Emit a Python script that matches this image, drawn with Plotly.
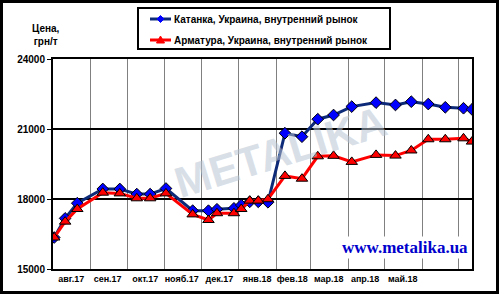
import plotly.graph_objects as go

dates = ["2017-08-02", "2017-08-11", "2017-08-21", "2017-09-11", "2017-09-25",
         "2017-10-09", "2017-10-20", "2017-11-02", "2017-11-24", "2017-12-07",
         "2017-12-14", "2017-12-28", "2018-01-03", "2018-01-10", "2018-01-17",
         "2018-01-25", "2018-02-08", "2018-02-22", "2018-03-07", "2018-03-20",
         "2018-04-04", "2018-04-24", "2018-05-10", "2018-05-23", "2018-06-06",
         "2018-06-20", "2018-07-05", "2018-07-12"]

katanka = [16350, 17170, 17820, 18430, 18430, 18210, 18210, 18450, 17500, 17500,
           17560, 17600, 17740, 17880, 17880, 17860, 20820, 20670, 21420, 21600,
           21960, 22130, 22030, 22170, 22070, 21930, 21890, 21840]

armatura = [16350, 17030, 17570, 18270, 18240, 18030, 18030, 18240, 17340, 17100,
            17390, 17390, 17570, 17930, 17930, 17990, 18990, 18870, 19830, 19850,
            19590, 19890, 19860, 20080, 20560, 20560, 20600, 20460]

series_names = ["Катанка, Украина, внутренний рынок", "Арматура, Украина, внутренний рынок"]

month_starts = ["2017-08-01", "2017-09-01", "2017-10-01", "2017-11-01", "2017-12-01",
                "2018-01-01", "2018-02-01", "2018-03-01", "2018-04-01", "2018-05-01",
                "2018-06-01", "2018-07-01"]
month_mids = ["2017-08-16", "2017-09-15", "2017-10-16", "2017-11-15", "2017-12-16",
              "2018-01-16", "2018-02-14", "2018-03-16", "2018-04-15", "2018-05-16"]
month_labels = ["авг.17", "сен.17", "окт.17", "нояб.17", "дек.17",
                "янв.18", "фев.18", "мар.18", "апр.18", "май.18"]
y_ticks = [15000, 18000, 21000, 24000]

W, H = 500, 295
ml, mr, mt, mb = 53, 28, 59, 26
pw, ph = W - ml - mr, H - mt - mb

def px_x(x):
    return (x - ml) / pw

def px_y(y):
    return (H - mb - y) / ph

line_colors = ["#0d2a78", "#ff0000"]
marker_colors = ["#0000ff", "#ff0000"]

fig = go.Figure()
fig.add_trace(go.Scatter(
    x=dates, y=katanka, name=series_names[0], mode="lines+markers",
    line=dict(color=line_colors[0], width=3),
    marker=dict(symbol="diamond", size=9, color=marker_colors[0], line=dict(color="black", width=1)),
))
fig.add_trace(go.Scatter(
    x=dates, y=armatura, name=series_names[1], mode="lines+markers",
    line=dict(color=line_colors[1], width=3),
    marker=dict(symbol="triangle-up", size=10, color=marker_colors[1], line=dict(color="black", width=1)),
))

bold = "Liberation Sans, Arial, sans-serif"

fig.update_layout(
    width=W, height=H,
    margin=dict(l=ml, r=mr, t=mt, b=mb),
    paper_bgcolor="white", plot_bgcolor="white",
    font=dict(family=bold, color="black"),
    showlegend=False,
    xaxis=dict(
        type="date", range=["2017-08-01", "2018-07-12"],
        tickvals=month_mids, ticktext=month_labels,
        tickfont=dict(size=9, weight="bold"),
        showgrid=False, ticks="", ticklen=0,
        showline=True, linecolor="black", linewidth=2, mirror=True,
        minor=dict(tickvals=month_starts, showgrid=True, gridcolor="#808080", gridwidth=1, ticks=""),
        zeroline=False,
    ),
    yaxis=dict(
        range=[15000, 24000], tickvals=y_ticks, tickformat="d",
        tickfont=dict(size=10, weight="bold"),
        showgrid=True, gridcolor="black", gridwidth=2,
        ticks="outside", ticklen=4, tickcolor="black",
        showline=True, linecolor="black", linewidth=2, mirror=True,
        zeroline=False,
    ),
)

# watermark
fig.add_annotation(
    x=px_x(280), y=px_y(152), xref="paper", yref="paper",
    text="<b>METALIKA</b>", showarrow=False, textangle=-17,
    font=dict(size=43, color="rgba(185,196,210,0.55)", family=bold),
)

# custom legend
lx0, lx1, ly0, ly1 = 138, 390, 8, 49
fig.add_shape(type="rect", xref="paper", yref="paper",
              x0=px_x(lx0), x1=px_x(lx1), y0=px_y(ly1), y1=px_y(ly0),
              line=dict(color="black", width=2), fillcolor="white", layer="above")
rows = [19, 40]
for i, yy in enumerate(rows):
    fig.add_shape(type="line", xref="paper", yref="paper",
                  x0=px_x(150), x1=px_x(171), y0=px_y(yy), y1=px_y(yy),
                  line=dict(color=line_colors[i], width=3), layer="above")
    cx = 160.5
    if i == 0:
        pts = [(cx, yy - 3.5), (cx + 3.5, yy), (cx, yy + 3.5), (cx - 3.5, yy)]
    else:
        pts = [(cx, yy - 4), (cx + 4, yy + 3), (cx - 4, yy + 3)]
    path = "M " + " L ".join(f"{px_x(a):.5f},{px_y(b):.5f}" for a, b in pts) + " Z"
    fig.add_shape(type="path", xref="paper", yref="paper", path=path,
                  fillcolor=marker_colors[i], line=dict(color=marker_colors[i], width=1), layer="above")
    fig.add_annotation(x=px_x(172), y=px_y(yy), xref="paper", yref="paper",
                       xanchor="left", yanchor="middle", showarrow=False,
                       text=f"<b>{series_names[i]}</b>",
                       font=dict(size=10, color="black", family=bold))

# y axis title
fig.add_annotation(
    x=px_x(30), y=px_y(21), xref="paper", yref="paper",
    text="<b>Цена,<br>грн/т</b>", showarrow=False,
    font=dict(size=10, color="black", family=bold), align="center",
)

# site url
fig.add_annotation(
    x=px_x(470), y=px_y(259), xref="paper", yref="paper", xanchor="right",
    text="<b>www.metalika.ua</b>", showarrow=False, bgcolor="white",
    font=dict(size=17, color="#0000cc", family="Liberation Serif, Times New Roman, serif"),
)

# outer frame
fig.add_shape(
    type="rect", xref="paper", yref="paper",
    x0=px_x(1.5), x1=px_x(W - 2.5), y0=px_y(H - 2.5), y1=px_y(1.5),
    line=dict(color="black", width=3), layer="above",
)

fig.write_html("out.html")
